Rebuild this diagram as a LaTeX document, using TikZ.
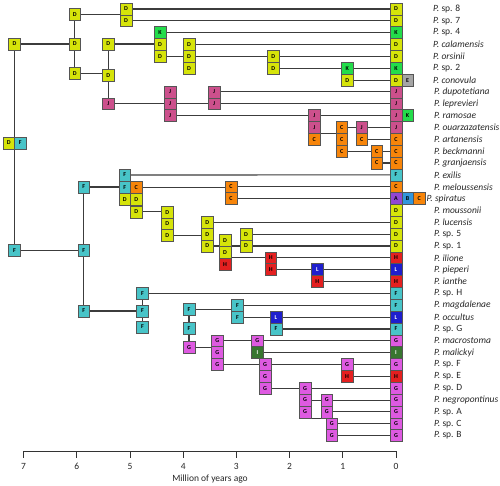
\documentclass[tikz,border=0pt]{standalone}
\usepackage{fontspec}
\setmainfont{Carlito}
\usetikzlibrary{backgrounds}
\definecolor{reg_A}{RGB}{145, 70, 210}
\definecolor{reg_B}{RGB}{50, 150, 220}
\definecolor{reg_C}{RGB}{247, 133, 10}
\definecolor{reg_D}{RGB}{214, 228, 10}
\definecolor{reg_E}{RGB}{165, 165, 165}
\definecolor{reg_F}{RGB}{72, 196, 200}
\definecolor{reg_G}{RGB}{222, 90, 225}
\definecolor{reg_H}{RGB}{228, 32, 32}
\definecolor{reg_I}{RGB}{56, 118, 48}
\definecolor{reg_J}{RGB}{204, 80, 140}
\definecolor{reg_K}{RGB}{35, 220, 75}
\definecolor{reg_L}{RGB}{30, 30, 205}
\definecolor{box_edge}{RGB}{85, 85, 85}
\definecolor{branch_grey}{RGB}{60, 60, 60}
\tikzstyle{box}=[rectangle,draw=box_edge,line width=0.6pt,inner sep=0pt,
  minimum width=11.6pt,minimum height=11.85pt,font=\fontsize{6}{6}\selectfont\bfseries]
\tikzstyle{pn}=[box,fill=reg_A]
\tikzstyle{sbn}=[box,fill=reg_B]
\tikzstyle{orn}=[box,fill=reg_C]
\tikzstyle{yn}=[box,fill=reg_D]
\tikzstyle{gyn}=[box,fill=reg_E]
\tikzstyle{tn}=[box,fill=reg_F]
\tikzstyle{mn}=[box,fill=reg_G]
\tikzstyle{rn}=[box,fill=reg_H]
\tikzstyle{dgn}=[box,fill=reg_I,text=white]
\tikzstyle{pkn}=[box,fill=reg_J]
\tikzstyle{gn}=[box,fill=reg_K]
\tikzstyle{bn}=[box,fill=reg_L,text=white]
\tikzstyle{taxon}=[anchor=west,inner sep=0pt,text=black!85,font=\fontsize{9.5}{11}\selectfont]
\tikzstyle{ticklab}=[inner sep=0pt,text=black!85,font=\fontsize{9.5}{11}\selectfont]
\tikzstyle{branch}=[draw=branch_grey,line width=1.1pt]
\tikzstyle{axisline}=[draw=black!80,line width=0.9pt]
\begin{document}
\begin{tikzpicture}[x=1pt, y=-1pt]
		\useasboundingbox (0, 0) rectangle (500, 486);
		% inner nodes, upper part
		\node [style=yn] (1) at (14.5, 44) {D};
		\node [style=yn] (2) at (74.7, 14.5) {D};
		\node [style=yn] (3) at (74.7, 44) {D};
		\node [style=yn] (4) at (74.7, 73.5) {D};
		\node [style=yn] (5) at (126, 9) {D};
		\node [style=yn] (6) at (126, 20.85) {D};
		\node [style=yn] (7) at (108.3, 44) {D};
		\node [style=yn] (8) at (108.3, 75.5) {D};
		\node [style=pkn] (9) at (108.3, 103.8) {J};
		\node [style=gn] (10) at (160, 32.7) {K};
		\node [style=yn] (11) at (160, 44.55) {D};
		\node [style=yn] (12) at (160, 56.4) {D};
		\node [style=yn] (13) at (189, 44.55) {D};
		\node [style=yn] (14) at (189, 56.4) {D};
		\node [style=yn] (15) at (189, 68.25) {D};
		\node [style=yn] (16) at (273.3, 56.4) {D};
		\node [style=yn] (17) at (273.3, 68.25) {D};
		\node [style=gn] (18) at (347.3, 68.25) {K};
		\node [style=yn] (19) at (347.3, 80.1) {D};
		\node [style=pkn] (20) at (170, 91.95) {J};
		\node [style=pkn] (21) at (170, 103.8) {J};
		\node [style=pkn] (22) at (170, 115.65) {J};
		\node [style=pkn] (23) at (214, 91.95) {J};
		\node [style=pkn] (24) at (214, 103.8) {J};
		\node [style=pkn] (25) at (314.3, 115.65) {J};
		\node [style=pkn] (26) at (314.3, 127.5) {J};
		\node [style=orn] (27) at (314.3, 139.35) {C};
		\node [style=orn] (28) at (341.7, 127.5) {C};
		\node [style=orn] (29) at (341.7, 139.35) {C};
		\node [style=orn] (30) at (341.7, 151.2) {C};
		\node [style=pkn] (31) at (361.7, 127.5) {J};
		\node [style=orn] (32) at (361.7, 139.35) {C};
		\node [style=orn] (33) at (376.7, 151.2) {C};
		\node [style=orn] (34) at (376.7, 163.05) {C};
		% inner nodes, lower part
		\node [style=tn] (35) at (14.5, 250.7) {F};
		\node [style=tn] (36) at (83.7, 187) {F};
		\node [style=tn] (37) at (83.7, 250.7) {F};
		\node [style=tn] (38) at (83.7, 311) {F};
		\node [style=tn] (39) at (124.7, 175) {F};
		\node [style=tn] (40) at (124.7, 187.3) {F};
		\node [style=orn] (41) at (136.3, 187.3) {C};
		\node [style=yn] (42) at (124.7, 199.6) {D};
		\node [style=yn] (43) at (136.3, 199.6) {D};
		\node [style=yn] (44) at (136.3, 211.9) {D};
		\node [style=orn] (45) at (231, 186.75) {C};
		\node [style=orn] (46) at (231, 198.6) {C};
		\node [style=yn] (47) at (167.3, 212.3) {D};
		\node [style=yn] (48) at (167.3, 224) {D};
		\node [style=yn] (49) at (167.3, 235.7) {D};
		\node [style=yn] (50) at (207.3, 222.3) {D};
		\node [style=yn] (51) at (207.3, 234.15) {D};
		\node [style=yn] (52) at (207.3, 246) {D};
		\node [style=yn] (53) at (225, 240.7) {D};
		\node [style=yn] (54) at (225, 252.4) {D};
		\node [style=rn] (55) at (225, 264.2) {H};
		\node [style=yn] (56) at (246, 234.15) {D};
		\node [style=yn] (57) at (246, 246) {D};
		\node [style=rn] (58) at (270.7, 257.85) {H};
		\node [style=rn] (59) at (270.7, 269.7) {H};
		\node [style=bn] (60) at (317.3, 269.7) {L};
		\node [style=rn] (61) at (317.3, 281.55) {H};
		\node [style=tn] (62) at (142.5, 293.4) {F};
		\node [style=tn] (63) at (142.5, 311) {F};
		\node [style=tn] (64) at (142.5, 327) {F};
		\node [style=tn] (65) at (189, 309.3) {F};
		\node [style=tn] (66) at (189, 328.5) {F};
		\node [style=mn] (67) at (189, 347.5) {G};
		\node [style=tn] (68) at (237.5, 305.25) {F};
		\node [style=tn] (69) at (237.5, 317.1) {F};
		\node [style=bn] (70) at (276, 317.1) {L};
		\node [style=tn] (71) at (276, 328.95) {F};
		\node [style=mn] (72) at (217.3, 340.8) {G};
		\node [style=mn] (73) at (217.3, 352.65) {G};
		\node [style=mn] (74) at (217.3, 364.5) {G};
		\node [style=mn] (75) at (257.3, 340.8) {G};
		\node [style=dgn] (76) at (257.3, 352.65) {I};
		\node [style=mn] (77) at (265, 364.5) {G};
		\node [style=mn] (78) at (265, 376.35) {G};
		\node [style=mn] (79) at (265, 388.2) {G};
		\node [style=mn] (80) at (347, 364.5) {G};
		\node [style=rn] (81) at (347, 376.35) {H};
		\node [style=mn] (82) at (305, 388.2) {G};
		\node [style=mn] (83) at (305, 400.05) {G};
		\node [style=mn] (84) at (305, 411.9) {G};
		\node [style=mn] (85) at (326.7, 400.05) {G};
		\node [style=mn] (86) at (326.7, 411.9) {G};
		\node [style=mn] (87) at (331.7, 423.75) {G};
		\node [style=mn] (88) at (331.7, 435.6) {G};
		% root
		\node [style=yn] (89) at (8.7, 143) {D};
		\node [style=tn] (90) at (20.3, 143) {F};
		% tips
		\node [style=yn] (100) at (396, 9) {D};
		\node [style=yn] (101) at (396, 20.85) {D};
		\node [style=gn] (102) at (396, 32.7) {K};
		\node [style=yn] (103) at (396, 44.55) {D};
		\node [style=yn] (104) at (396, 56.4) {D};
		\node [style=gn] (105) at (396, 68.25) {K};
		\node [style=yn] (106) at (396, 80.1) {D};
		\node [style=pkn] (107) at (396, 91.95) {J};
		\node [style=pkn] (108) at (396, 103.8) {J};
		\node [style=pkn] (109) at (396, 115.65) {J};
		\node [style=pkn] (110) at (396, 127.5) {J};
		\node [style=orn] (111) at (396, 139.35) {C};
		\node [style=orn] (112) at (396, 151.2) {C};
		\node [style=orn] (113) at (396, 163.05) {C};
		\node [style=tn] (114) at (396, 174.9) {F};
		\node [style=orn] (115) at (396, 186.75) {C};
		\node [style=pn] (116) at (396, 198.6) {A};
		\node [style=yn] (117) at (396, 210.45) {D};
		\node [style=yn] (118) at (396, 222.3) {D};
		\node [style=yn] (119) at (396, 234.15) {D};
		\node [style=yn] (120) at (396, 246) {D};
		\node [style=rn] (121) at (396, 257.85) {H};
		\node [style=bn] (122) at (396, 269.7) {L};
		\node [style=rn] (123) at (396, 281.55) {H};
		\node [style=tn] (124) at (396, 293.4) {F};
		\node [style=tn] (125) at (396, 305.25) {F};
		\node [style=bn] (126) at (396, 317.1) {L};
		\node [style=tn] (127) at (396, 328.95) {F};
		\node [style=mn] (128) at (396, 340.8) {G};
		\node [style=dgn] (129) at (396, 352.65) {I};
		\node [style=mn] (130) at (396, 364.5) {G};
		\node [style=rn] (131) at (396, 376.35) {H};
		\node [style=mn] (132) at (396, 388.2) {G};
		\node [style=mn] (133) at (396, 400.05) {G};
		\node [style=mn] (134) at (396, 411.9) {G};
		\node [style=mn] (135) at (396, 423.75) {G};
		\node [style=mn] (136) at (396, 435.6) {G};
		\node [style=gyn] (137) at (407.6, 80.1) {E};
		\node [style=gn] (138) at (407.6, 115.65) {K};
		\node [style=sbn] (139) at (407.6, 198.6) {B};
		\node [style=orn] (140) at (419.2, 198.6) {C};
		% taxon names
		\node [style=taxon] (200) at (433, 9) {\textit{P.} sp. 8};
		\node [style=taxon] (201) at (433, 20.85) {\textit{P.} sp. 7};
		\node [style=taxon] (202) at (433, 32.7) {\textit{P.} sp. 4};
		\node [style=taxon] (203) at (433, 44.55) {\textit{P. calamensis}};
		\node [style=taxon] (204) at (433, 56.4) {\textit{P. orsinii}};
		\node [style=taxon] (205) at (433, 68.25) {\textit{P.} sp. 2};
		\node [style=taxon] (206) at (433, 80.1) {\textit{P. conovula}};
		\node [style=taxon] (207) at (434, 91.95) {\textit{P. dupotetiana}};
		\node [style=taxon] (208) at (434, 103.8) {\textit{P. leprevieri}};
		\node [style=taxon] (209) at (434, 115.65) {\textit{P. ramosae}};
		\node [style=taxon] (210) at (434, 127.5) {\textit{P. ouarzazatensis}};
		\node [style=taxon] (211) at (434, 139.35) {\textit{P. artanensis}};
		\node [style=taxon] (212) at (434, 151.2) {\textit{P. beckmanni}};
		\node [style=taxon] (213) at (434, 163.05) {\textit{P. granjaensis}};
		\node [style=taxon] (214) at (434, 174.9) {\textit{P. exilis}};
		\node [style=taxon] (215) at (434, 186.75) {\textit{P. meloussensis}};
		\node [style=taxon] (216) at (426.5, 198.6) {\textit{P. spiratus}};
		\node [style=taxon] (217) at (434, 210.45) {\textit{P. moussonii}};
		\node [style=taxon] (218) at (434, 222.3) {\textit{P. lucensis}};
		\node [style=taxon] (219) at (434, 234.15) {\textit{P.} sp. 5};
		\node [style=taxon] (220) at (434, 246) {\textit{P.} sp. 1};
		\node [style=taxon] (221) at (434, 257.85) {\textit{P. ilione}};
		\node [style=taxon] (222) at (434, 269.7) {\textit{P. pieperi}};
		\node [style=taxon] (223) at (434, 281.55) {\textit{P. ianthe}};
		\node [style=taxon] (224) at (434, 293.4) {\textit{P.} sp. H};
		\node [style=taxon] (225) at (434, 305.25) {\textit{P. magdalenae}};
		\node [style=taxon] (226) at (434, 317.1) {\textit{P. occultus}};
		\node [style=taxon] (227) at (434, 328.95) {\textit{P.} sp. G};
		\node [style=taxon] (228) at (434, 340.8) {\textit{P. macrostoma}};
		\node [style=taxon] (229) at (434, 352.65) {\textit{P. malickyi}};
		\node [style=taxon] (230) at (434, 364.5) {\textit{P.} sp. F};
		\node [style=taxon] (231) at (434, 376.35) {\textit{P.} sp. E};
		\node [style=taxon] (232) at (434, 388.2) {\textit{P.} sp. D};
		\node [style=taxon] (233) at (434, 400.05) {\textit{P. negropontinus}};
		\node [style=taxon] (234) at (434, 411.9) {\textit{P.} sp. A};
		\node [style=taxon] (235) at (434, 423.75) {\textit{P.} sp. C};
		\node [style=taxon] (236) at (434, 435.6) {\textit{P.} sp. B};
		% time axis
		\coordinate (300) at (23.6, 451);
		\coordinate (301) at (396, 451);
		\node [style=ticklab] (310) at (23.6, 466) {7};
		\node [style=ticklab] (311) at (76.8, 466) {6};
		\node [style=ticklab] (312) at (130, 466) {5};
		\node [style=ticklab] (313) at (183.2, 466) {4};
		\node [style=ticklab] (314) at (236.4, 466) {3};
		\node [style=ticklab] (315) at (289.6, 466) {2};
		\node [style=ticklab] (316) at (342.8, 466) {1};
		\node [style=ticklab] (317) at (396, 466) {0};
		\node [style=ticklab] (320) at (210, 479.5) {Million of years ago};
		\draw [style=axisline] (300) to (301);
		\draw [style=axisline] (310 |- 300) to ++(0, 7);
		\draw [style=axisline] (311 |- 300) to ++(0, 7);
		\draw [style=axisline] (312 |- 300) to ++(0, 7);
		\draw [style=axisline] (313 |- 300) to ++(0, 7);
		\draw [style=axisline] (314 |- 300) to ++(0, 7);
		\draw [style=axisline] (315 |- 300) to ++(0, 7);
		\draw [style=axisline] (316 |- 300) to ++(0, 7);
		\draw [style=axisline] (317 |- 300) to ++(0, 7);
		% branches go under the boxes
		\begin{scope}[on background layer]
		\draw [style=branch] (1.center) to (35.center);
		\draw [style=branch] (1.center) to (3.center);
		\draw [style=branch] (2.center) to (4.center);
		\draw [style=branch] (2.center) to (2.center -| 5.center);
		\draw [style=branch] (5.center) to (100.center);
		\draw [style=branch] (6.center) to (101.center);
		\draw [style=branch] (4.center) to (4.center -| 8.center);
		\draw [style=branch] (7.center) to (9.center);
		\draw [style=branch] (7.center) to (7.center -| 11.center);
		\draw [style=branch] (10.center) to (102.center);
		\draw [style=branch] (12.center) to (14.center);
		\draw [style=branch] (13.center) to (103.center);
		\draw [style=branch] (14.center) to (16.center);
		\draw [style=branch] (16.center) to (104.center);
		\draw [style=branch] (17.center) to (18.center);
		\draw [style=branch] (18.center) to (105.center);
		\draw [style=branch] (19.center) to (106.center);
		\draw [style=branch] (9.center) to (21.center);
		\draw [style=branch] (21.center) to (24.center);
		\draw [style=branch] (23.center) to (107.center);
		\draw [style=branch] (24.center) to (108.center);
		\draw [style=branch] (22.center) to (25.center);
		\draw [style=branch] (25.center) to (109.center);
		\draw [style=branch] (27.north) to (27.north -| 29.center);
		\draw [style=branch] (28.center) to (31.center);
		\draw [style=branch] (31.center) to (110.center);
		\draw [style=branch] (32.center) to (111.center);
		\draw [style=branch] (30.center) to (33.center);
		\draw [style=branch] (33.center) to (112.center);
		\draw [style=branch] (34.center) to (113.center);
		\draw [style=branch] (35.center) to (37.center);
		\draw [style=branch] (36.center) to (38.center);
		\draw [style=branch] (36.center) to (36.center -| 40.center);
		\draw [style=branch] (39.center) to (114.center);
		\draw [style=branch] (41.center) to (41.center -| 45.center);
		\draw [style=branch] (45.center) to (115.center);
		\draw [style=branch] (46.center) to (116.center);
		\draw [style=branch] (44.center) to (44.center -| 47.center);
		\draw [style=branch] (49.center) to (49.center -| 51.center);
		\draw [style=branch] (50.center) to (118.center);
		\draw [style=branch] (52.center) to (57.center);
		\draw [style=branch] (56.center) to (119.center);
		\draw [style=branch] (57.center) to (120.center);
		\draw [style=branch] (55.center |- 58.center) to (58.center);
		\draw [style=branch] (58.center) to (121.center);
		\draw [style=branch] (59.center) to (60.center);
		\draw [style=branch] (60.center) to (122.center);
		\draw [style=branch] (61.center) to (123.center);
		\draw [style=branch] (38.center) to (63.center);
		\draw [style=branch] (62.center) to (64.center);
		\draw [style=branch] (62.center) to (124.center);
		\draw [style=branch] (65.center) to (67.center);
		\draw [style=branch] (65.center) to (65.center -| 68.center);
		\draw [style=branch] (68.center) to (125.center);
		\draw [style=branch] (69.center) to (70.center);
		\draw [style=branch] (70.center) to (126.center);
		\draw [style=branch] (71.center) to (127.center);
		\draw [style=branch] (67.center) to (67.center -| 72.center);
		\draw [style=branch] (72.center) to (75.center);
		\draw [style=branch] (75.center) to (128.center);
		\draw [style=branch] (76.center) to (129.center);
		\draw [style=branch] (74.center) to (77.center);
		\draw [style=branch] (77.center) to (80.center);
		\draw [style=branch] (80.center) to (130.center);
		\draw [style=branch] (81.center) to (131.center);
		\draw [style=branch] (79.center) to (82.center);
		\draw [style=branch] (82.center) to (132.center);
		\draw [style=branch] (83.center) to (85.center);
		\draw [style=branch] (85.center) to (133.center);
		\draw [style=branch] (86.center) to (134.center);
		\draw [style=branch] (84.south) to (84.south -| 87.center);
		\draw [style=branch] (87.center) to (135.center);
		\draw [style=branch] (88.center) to (136.center);
		\end{scope}
\end{tikzpicture}
\end{document}
